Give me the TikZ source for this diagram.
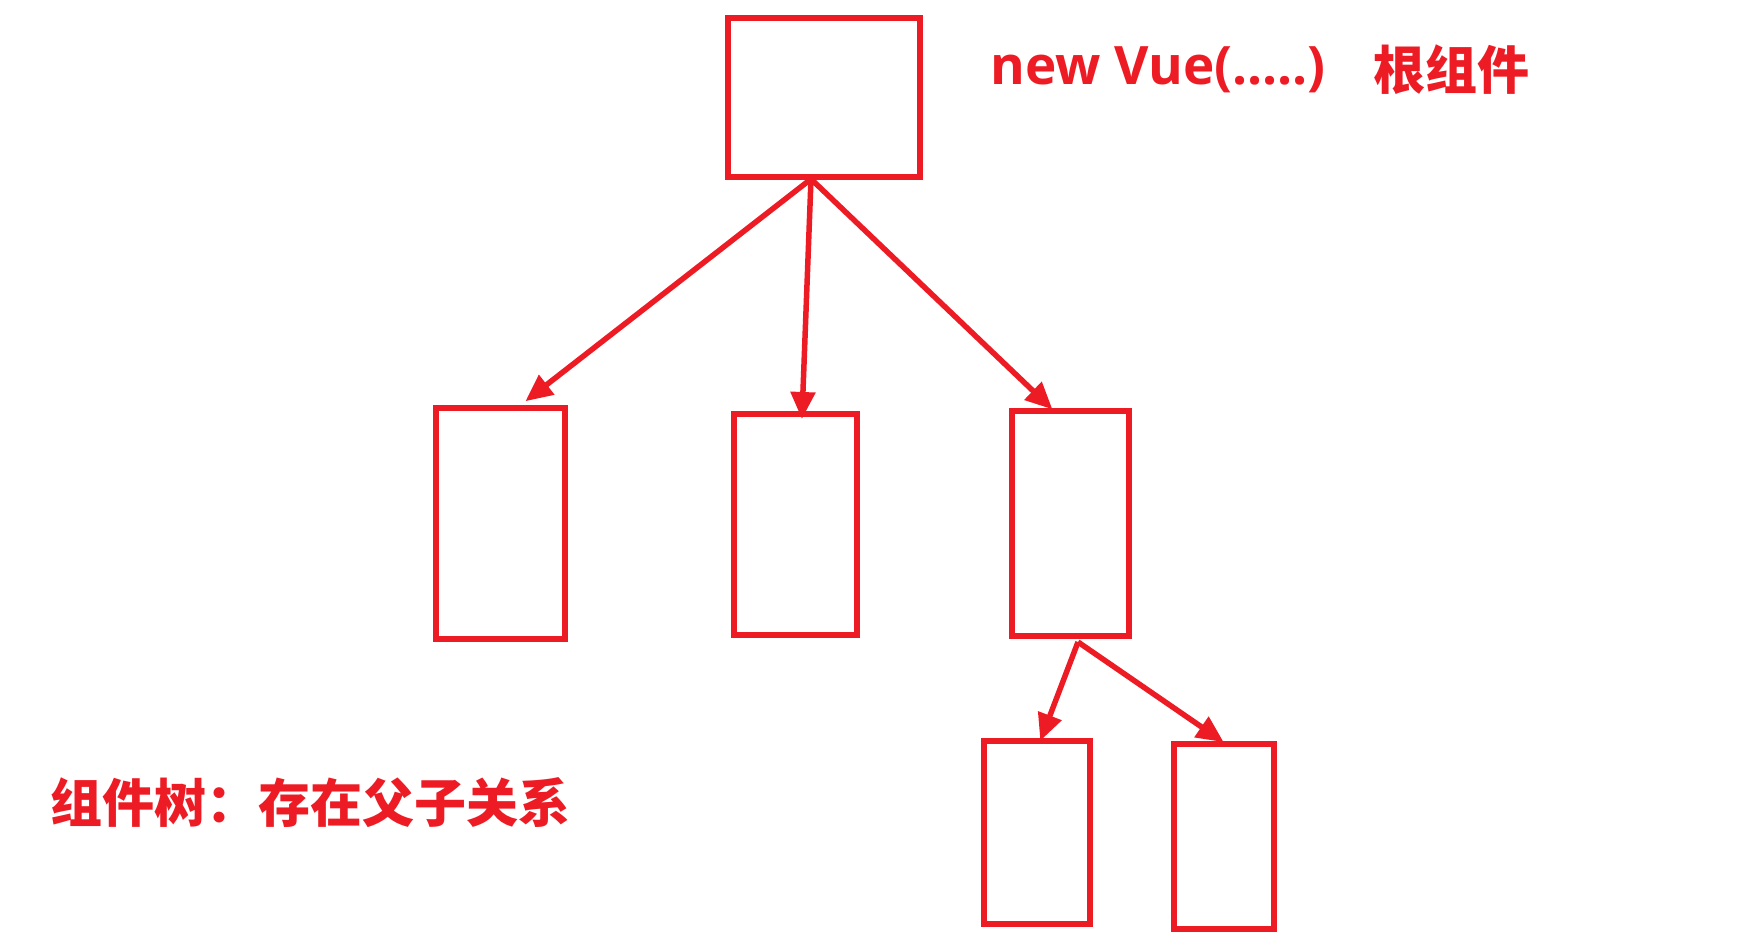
\documentclass[tikz,border=0pt]{standalone}
\usepackage{fontspec}
\setmainfont{Open Sans}
\newfontfamily\cjk{Noto Sans CJK SC}
\usetikzlibrary{arrows.meta}
\definecolor{redline}{RGB}{237,28,36}
\tikzset{
  box/.style={draw=redline, line width=5.5pt, inner sep=0pt},
  link/.style={draw=redline, line width=5.5pt, -{Triangle[length=27pt,width=24pt]}, shorten >=-2pt},
  lbl/.style={text=redline, inner sep=0pt, anchor=west}
}
\begin{document}
\begin{tikzpicture}[x=1pt,y=-1pt]
\useasboundingbox (0,0) rectangle (1743,950);
\node[box, minimum width=192pt, minimum height=159pt] (root) at (824,97.5) {};
\node[box, minimum width=129pt, minimum height=231pt] (c1) at (500.5,523.5) {};
\node[box, minimum width=123pt, minimum height=221pt] (c2) at (795.5,524.5) {};
\node[box, minimum width=117pt, minimum height=225pt] (c3) at (1070.5,523.5) {};
\node[box, minimum width=106pt, minimum height=183pt] (g1) at (1037,832.5) {};
\node[box, minimum width=100pt, minimum height=185pt] (g2) at (1224,836.5) {};
\coordinate (rs) at (811,179);
\coordinate (e1) at (527,400);
\coordinate (e2) at (802,417);
\coordinate (e3) at (1051,408);
\coordinate (cs) at (1078,642);
\coordinate (f1) at (1041,739);
\coordinate (f2) at (1222,741);
\draw[link] (rs) -- (e1);
\draw[link] (rs) -- (e2);
\draw[link] (rs) -- (e3);
\draw[link] (cs) -- (f1);
\draw[link] (cs) -- (f2);
\node[lbl, font=\fontsize{53}{60}\selectfont\bfseries] (t1) at (990,70) {new Vue(.....)};
\node[lbl, font=\fontsize{52}{58}\selectfont\cjk\bfseries] (t2) at (1373,70) {根组件};
\node[lbl, font=\fontsize{52}{58}\selectfont\cjk\bfseries] (t3) at (50,803) {组件树：存在父子关系};
\end{tikzpicture}
\end{document}
